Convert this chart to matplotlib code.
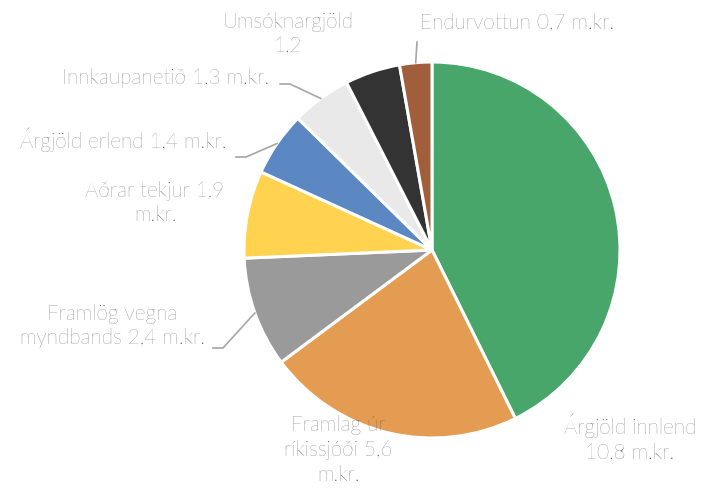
import matplotlib.pyplot as plt
import numpy as np

labels = ["Endurvottun 0,7 m.kr.", "Árgjöld innlend\n10,8 m.kr.", "Framlag úr\nríkissjóði 5,6\nm.kr.",
          "Framlög vegna\nmyndbands 2,4 m.kr.", "Aðrar tekjur 1,9\nm.kr.", "Árgjöld erlend 1,4 m.kr.",
          "Innkaupanetið 1,3 m.kr.", "Umsóknargjöld\n1,2"]
values = [0.7, 10.8, 5.6, 2.4, 1.9, 1.4, 1.3, 1.2]
colors = ["#A15E3B", "#49A66B", "#E49C53", "#9A9A9A", "#FFD24F", "#5B87C3", "#E8E9E8", "#333333"]

# label text centres in pixels (y from top)
label_pos = [(517, 22), (630, 438), (338, 450), (112, 326), (155, 203), (123, 140), (166, 78), (288, 34)]
# leader elbows (None = no leader)
leaders = [(417, 42), None, None, (213, 348), None, (236, 157), (280, 84), None]

W, H = 721, 488
fig = plt.figure(figsize=(7.21, 4.88), dpi=100)
ax = fig.add_axes([0, 0, 1, 1])

cx, cy, r = 432, H - 250, 188
# pie order clockwise from top: Endurvottun is last
order = [1, 2, 3, 4, 5, 6, 7, 0]
vals = [values[i] for i in order]
cols = [colors[i] for i in order]
wedges, _ = ax.pie(vals, colors=cols, startangle=90, counterclock=False, center=(cx, cy), radius=r,
                   wedgeprops=dict(edgecolor="white", linewidth=2.2), frame=True)
ax.set_xlim(0, W)
ax.set_ylim(0, H)
ax.set_aspect("equal")
ax.axis("off")

tc = "#4a4a4a"
for k, i in enumerate(order):
    x, y = label_pos[i]
    ax.text(x, H - y, labels[i], ha="center", va="center", fontsize=15, color=tc,
            family="Lato", fontweight="light", linespacing=1.3)
    if leaders[i] is not None:
        w = wedges[k]
        ang = np.deg2rad((w.theta1 + w.theta2) / 2)
        px, py = cx + r * np.cos(ang), cy + r * np.sin(ang)
        ex, ey = leaders[i]
        if i == 0:
            ax.plot([ex, px], [H - ey, py], color="#A6A6A6", lw=1.2)
        else:
            ax.plot([ex, ex + 10, px], [H - ey, H - ey, py], color="#A6A6A6", lw=1.2)

fig.savefig("out.png", dpi=100)
